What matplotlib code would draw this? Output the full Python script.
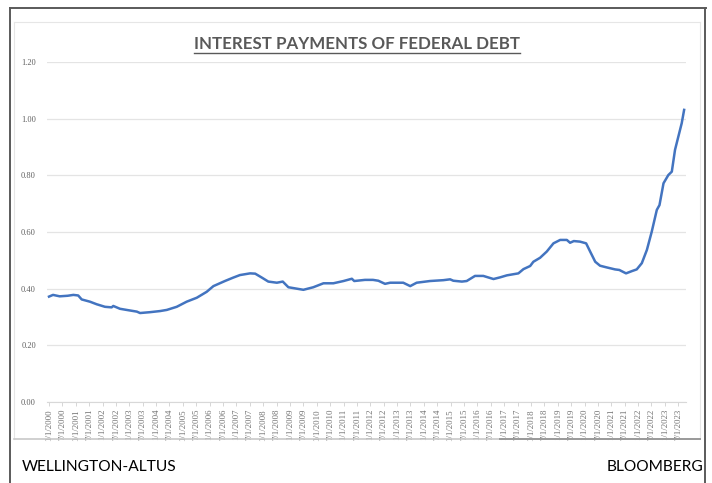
import numpy as np
import matplotlib
matplotlib.use("Agg")
import matplotlib.pyplot as plt
from matplotlib.lines import Line2D

# ---- data ----
# years since 1/1/2000, interest payments
years = [0.00, 0.15, 0.40, 0.70, 0.91, 1.09, 1.22, 1.53, 1.78, 2.09, 2.34, 2.40,
         2.65, 2.96, 3.28, 3.40, 3.77, 4.15, 4.40, 4.77, 5.14, 5.52, 5.89, 6.14,
         6.57, 6.88, 7.13, 7.51, 7.70, 7.95, 8.19, 8.51, 8.73, 8.94, 9.19, 9.50,
         9.87, 10.25, 10.62, 11.00, 11.31, 11.40, 11.80, 12.10, 12.30, 12.55, 12.74,
         13.23, 13.49, 13.73, 14.23, 14.73, 14.98, 15.10, 15.42, 15.60, 15.91, 16.22,
         16.60, 16.85, 17.10, 17.53, 17.72, 17.97, 18.09, 18.34, 18.59, 18.84, 19.09,
         19.34, 19.46, 19.60, 19.83, 20.06, 20.21, 20.40, 20.58, 20.83, 21.14, 21.30,
         21.55, 21.77, 21.95, 22.14, 22.33, 22.51, 22.70, 22.80, 22.95, 23.13, 23.26,
         23.38, 23.55, 23.63, 23.72]
payments = [0.372, 0.378, 0.373, 0.375, 0.378, 0.376, 0.362, 0.354, 0.345, 0.336, 0.334, 0.339,
            0.329, 0.324, 0.319, 0.314, 0.317, 0.321, 0.325, 0.336, 0.354, 0.368, 0.389, 0.409,
            0.427, 0.439, 0.448, 0.454, 0.453, 0.439, 0.425, 0.421, 0.425, 0.405, 0.401, 0.396,
            0.405, 0.419, 0.419, 0.427, 0.435, 0.427, 0.431, 0.431, 0.428, 0.417, 0.421,
            0.421, 0.409, 0.421, 0.427, 0.430, 0.433, 0.428, 0.425, 0.427, 0.445, 0.445,
            0.434, 0.440, 0.447, 0.454, 0.469, 0.480, 0.495, 0.509, 0.531, 0.560, 0.572,
            0.572, 0.562, 0.568, 0.566, 0.560, 0.531, 0.495, 0.481, 0.475, 0.468, 0.466,
            0.454, 0.462, 0.468, 0.490, 0.537, 0.601, 0.678, 0.695, 0.772, 0.801, 0.813,
            0.890, 0.954, 0.984, 1.031]

tick_labels = [f"{m}/1/{y}" for y in range(2000, 2024) for m in (1, 7)]
tick_pos = [0.5 * k for k in range(len(tick_labels))]
y_ticks = [0.0, 0.2, 0.4, 0.6, 0.8, 1.0, 1.2]

W, H = 712, 483
fig = plt.figure(figsize=(W / 100, H / 100), dpi=100)
fig.patch.set_facecolor("white")

def px(x0, y0, x1, y1):
    """pixel box (top-left origin) -> figure fraction rect"""
    return [x0 / W, 1 - y1 / H, (x1 - x0) / W, (y1 - y0) / H]

ax = fig.add_axes(px(47, 62, 686, 402))
ax.plot(years, payments, color="#4374c0", lw=1.8, solid_joinstyle="round")
ax.set_xlim(-0.075, 23.79)
ax.set_ylim(0, 1.2)
ax.set_yticks(y_ticks)
ax.set_yticklabels([f"{v:.2f}" for v in y_ticks], fontsize=6,
                   color="#606060", family="Liberation Serif")
ax.set_xticks(tick_pos)
ax.set_xticklabels(tick_labels, rotation=90, fontsize=6.3, color="#707070",
                   family="Liberation Serif")
ax.tick_params(axis="y", length=0, pad=8)
ax.tick_params(axis="x", length=3, width=0.6, color="#d0d0d0", pad=2)
ax.grid(axis="y", color="#e4e4e4", lw=0.9)
ax.set_axisbelow(True)
for s in ("top", "right", "left"):
    ax.spines[s].set_visible(False)
ax.spines["bottom"].set_color("#d8d8d8")
ax.spines["bottom"].set_linewidth(0.8)

# title with underline
title = fig.text(357 / W, 1 - 44 / H, "INTEREST PAYMENTS OF FEDERAL DEBT",
                 ha="center", va="center", fontsize=12.2, fontweight="bold",
                 color="#595959", family="Lato")
fig.canvas.draw()
bb = title.get_window_extent().transformed(fig.transFigure.inverted())
fig.add_artist(Line2D([bb.x0, bb.x1], [bb.y0 - 0.002, bb.y0 - 0.002],
                      color="#595959", lw=1.0, transform=fig.transFigure))

# frame lines
def hline(y, x0, x1, c, lw):
    fig.add_artist(Line2D([x0 / W, x1 / W], [1 - y / H, 1 - y / H], color=c, lw=lw,
                          transform=fig.transFigure))

def vline(x, y0, y1, c, lw):
    fig.add_artist(Line2D([x / W, x / W], [1 - y0 / H, 1 - y1 / H], color=c, lw=lw,
                          transform=fig.transFigure))

hline(8, 10, 706, "#5a5a5a", 1.4)
vline(10, 8, 483, "#5a5a5a", 1.4)
vline(705, 8, 483, "#5a5a5a", 1.4)
hline(22, 14, 700, "#e6e6e6", 0.8)
vline(14, 22, 439, "#e6e6e6", 0.8)
vline(700, 22, 439, "#e6e6e6", 0.8)
hline(439, 14, 700, "#c8c8c8", 1.2)
hline(439, 500, 700, "#9a9a9a", 1.4)

# footer
fig.text(22 / W, 1 - 467 / H, "WELLINGTON-ALTUS", ha="left", va="center",
         fontsize=11.2, color="black", family="Lato")
fig.text(703 / W, 1 - 467 / H, "BLOOMBERG", ha="right", va="center",
         fontsize=11.2, color="black", family="Lato")

fig.savefig("out.png", dpi=100)
